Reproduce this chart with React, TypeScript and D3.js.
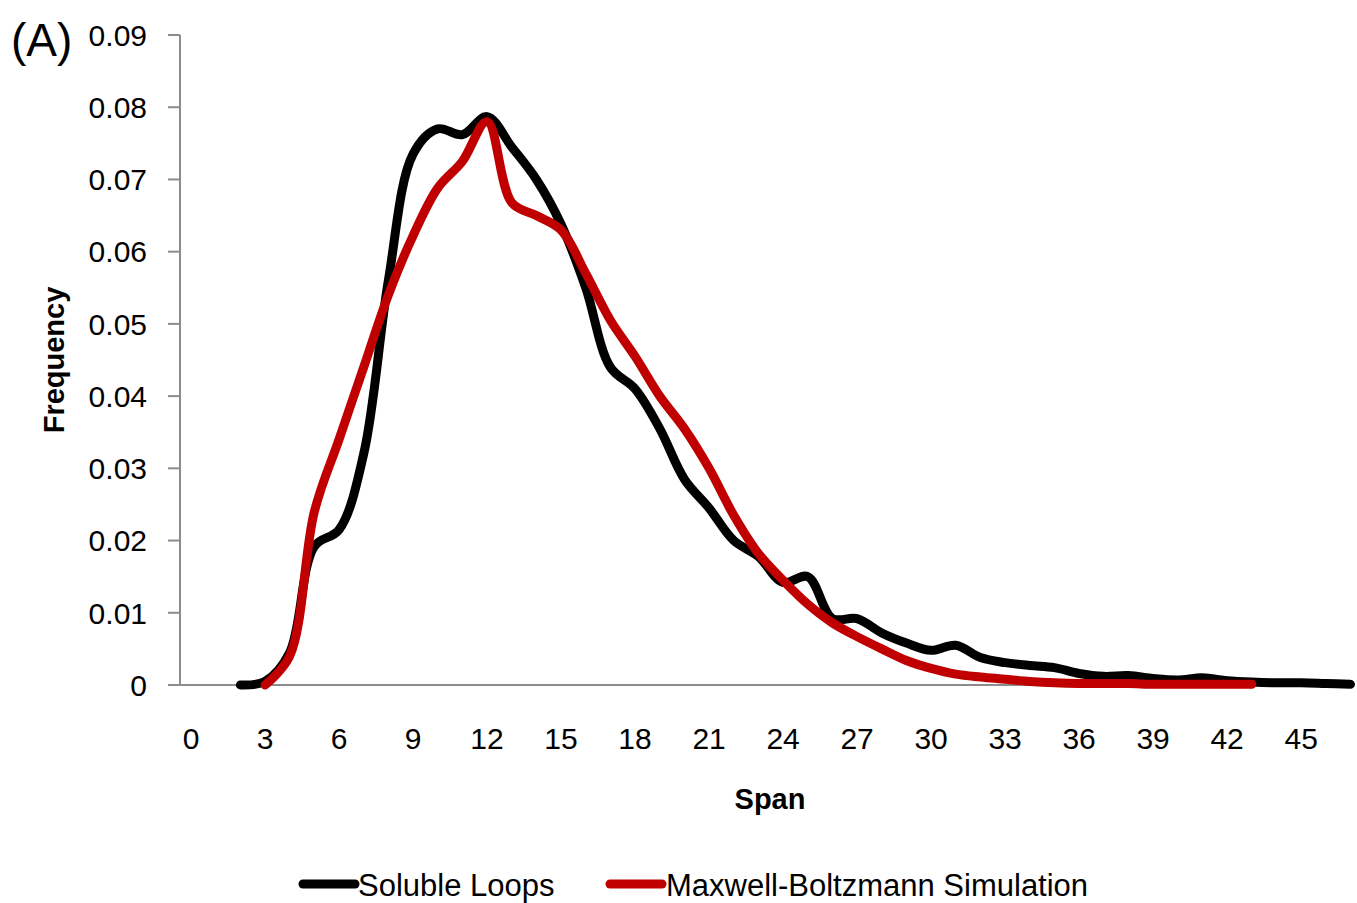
import React from 'react'
import * as d3 from 'd3'

// span values (x) for each series
const blackSpans = d3.range(2, 48)
const redSpans = d3.range(3, 44)

// Soluble Loops, span 2..47
const solubleLoops = [
  0, 0.0005, 0.0045, 0.0192, 0.0215, 0.032, 0.056, 0.0735, 0.077, 0.0762,
  0.0787, 0.0745, 0.0700, 0.0638, 0.0550, 0.0440, 0.0410, 0.0355, 0.0285, 0.0245,
  0.0200, 0.0178, 0.0142, 0.0150, 0.0092, 0.0092, 0.0072, 0.0058, 0.0048, 0.0055,
  0.0038, 0.0031, 0.0027, 0.0024, 0.0016, 0.0012, 0.0013, 0.0009, 0.0007, 0.0010,
  0.0006, 0.0004, 0.0003, 0.0003, 0.0002, 0.0001,
]

// Maxwell-Boltzmann Simulation, span 3..43
const maxwellBoltzmann = [
  0, 0.0040, 0.0240, 0.0340, 0.0440, 0.0540, 0.0622, 0.0688, 0.0725, 0.0780,
  0.0668, 0.0650, 0.0630, 0.0570, 0.0505, 0.0455, 0.0400, 0.0355, 0.0300, 0.0235,
  0.0182, 0.0145, 0.0112, 0.0086, 0.0067, 0.0050, 0.0034, 0.0023, 0.0015, 0.0011,
  0.0008, 0.0005, 0.0003, 0.0002, 0.0002, 0.0002, 0.0001, 0.0001, 0.0001, 0.0001,
  0.0001,
]

const xTicks = d3.range(0, 46, 3)
const yTicks = d3.range(0, 0.0901, 0.01)

const font = '"Liberation Sans", Arial, sans-serif'
const axisColor = '#8c8c8c'

export default function App() {
  const width = 1357
  const height = 903

  const x = d3.scaleLinear().domain([0, 47]).range([191, 191 + 47 * 24.67])
  const y = d3.scaleLinear().domain([0, 0.09]).range([685, 35])

  const axisLeft = 180
  const axisRight = 1353

  const line = d3.line<[number, number]>()
    .x(d => x(d[0]))
    .y(d => y(d[1]))
    .curve(d3.curveCatmullRom.alpha(0.5))

  const blackPath = line(blackSpans.map((s, i) => [s, solubleLoops[i]])) || ''
  const redPath = line(redSpans.map((s, i) => [s, maxwellBoltzmann[i]])) || ''

  return (
    <svg width={width} height={height} style={{ position: 'absolute', left: 0, top: 0 }}
      fontFamily={font}>
      <rect width={width} height={height} fill="#fff" />

      {/* y axis */}
      <line x1={axisLeft} x2={axisLeft} y1={y(0.09)} y2={y(0)} stroke={axisColor} strokeWidth={2} />
      {yTicks.map(t => (
        <g key={t}>
          <line x1={axisLeft - 12} x2={axisLeft} y1={y(t)} y2={y(t)} stroke={axisColor} strokeWidth={2} />
          <text x={147} y={y(t)} dy="0.36em" textAnchor="end" fontSize={30} fill="#000">
            {t === 0 ? '0' : d3.format('.2f')(t)}
          </text>
        </g>
      ))}

      {/* x axis */}
      <line x1={axisLeft} x2={axisRight} y1={y(0)} y2={y(0)} stroke={axisColor} strokeWidth={2} />
      {xTicks.map(t => (
        <text key={t} x={x(t)} y={749} textAnchor="middle" fontSize={30} fill="#000">{t}</text>
      ))}

      <path d={blackPath} fill="none" stroke="#000" strokeWidth={9} strokeLinecap="round" strokeLinejoin="round" />
      <path d={redPath} fill="none" stroke="#c00000" strokeWidth={9} strokeLinecap="round" strokeLinejoin="round" />

      {/* titles */}
      <text x={11} y={56} fontSize={46} fill="#000">(A)</text>
      <text transform={`translate(64,360) rotate(-90)`} textAnchor="middle" fontSize={29} fontWeight="bold" fill="#000">Frequency</text>
      <text x={770} y={809} textAnchor="middle" fontSize={29} fontWeight="bold" fill="#000">Span</text>

      {/* legend */}
      <line x1={303} x2={355} y1={884} y2={884} stroke="#000" strokeWidth={9} strokeLinecap="round" />
      <text x={358} y={885} dy="0.36em" fontSize={31} fill="#000">Soluble Loops</text>
      <line x1={610} x2={662} y1={884} y2={884} stroke="#c00000" strokeWidth={9} strokeLinecap="round" />
      <text x={666} y={885} dy="0.36em" fontSize={31} fill="#000">Maxwell-Boltzmann Simulation</text>
    </svg>
  )
}
